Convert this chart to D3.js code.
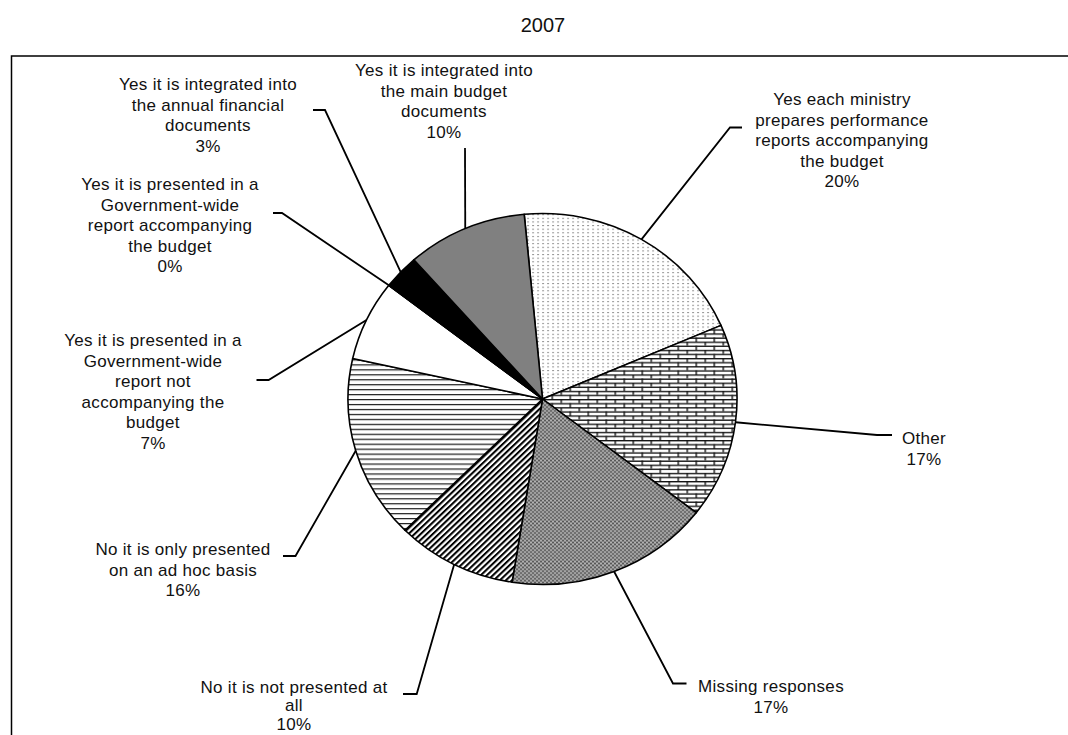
<!DOCTYPE html>
<html>
<head>
<meta charset="utf-8">
<script src="https://cdn.jsdelivr.net/npm/d3@7"></script>
<style>
  html, body { margin: 0; padding: 0; background: #fff; }
  svg { display: block; }
  text { font-family: "Liberation Sans", Arial, sans-serif; fill: #111; }
</style>
</head>
<body>
<svg id="chart" width="1068" height="735"></svg>
<script>
// ---- data ----
const title = "2007";
const categories = [
  "Yes each ministry prepares performance reports accompanying the budget",
  "Other",
  "Missing responses",
  "No it is not presented at all",
  "No it is only presented on an ad hoc basis",
  "Yes it is presented in a Government-wide report not accompanying the budget",
  "Yes it is presented in a Government-wide report accompanying the budget",
  "Yes it is integrated into the annual financial documents",
  "Yes it is integrated into the main budget documents"
];
const values = [20, 17, 17, 10, 16, 7, 0, 3, 10];
const labelLines = [
  ["Yes each ministry", "prepares performance", "reports accompanying", "the budget"],
  ["Other"],
  ["Missing responses"],
  ["No it is not presented at", "all"],
  ["No it is only presented", "on an ad hoc basis"],
  ["Yes it is presented in a", "Government-wide", "report not", "accompanying the", "budget"],
  ["Yes it is presented in a", "Government-wide", "report accompanying", "the budget"],
  ["Yes it is integrated into", "the annual financial", "documents"],
  ["Yes it is integrated into", "the main budget", "documents"]
];
const fills = ["url(#pDots)", "url(#pBrick)", "url(#pCheck)", "url(#pDiag)", "url(#pHoriz)", "#ffffff", "#ffffff", "#000000", "#808080"];

// ---- layout ----
const W = 1068, H = 735;
const cx = 542.5, cy = 399, rx = 194.5, ry = 185.5;
const startDeg = -5.4;
const lineH = 20.6;
const labelLayout = [
  {x: 842, y: 99,  elbow: [730, 127.5], end: [742, 127.5]},
  {x: 924, y: 438, elbow: [877, 435],   end: [892, 435]},
  {x: 771, y: 686, elbow: [673, 683.5], end: [686.5, 683.5]},
  {x: 294, y: 687, elbow: [416.7, 694], end: [403, 694], lh: 18.5},
  {x: 183, y: 549, elbow: [295.5, 556], end: [283, 556]},
  {x: 153, y: 340, elbow: [268.6, 380], end: [256.5, 380]},
  {x: 170, y: 184, elbow: [282, 213],   end: [273, 213]},
  {x: 208, y: 84,  elbow: [325, 110],   end: [313, 110]},
  {x: 444, y: 70,  elbow: [465, 148],   end: [465, 148]}
];

const svg = d3.select("#chart");
const defs = svg.append("defs");

// dotted pattern
const pd = defs.append("pattern").attr("id", "pDots").attr("patternUnits", "userSpaceOnUse")
  .attr("width", 5).attr("height", 3.8);
pd.append("rect").attr("width", 5).attr("height", 3.8).attr("fill", "#fff");
pd.append("rect").attr("x", 0).attr("y", 0).attr("width", 1.1).attr("height", 1.1).attr("fill", "#444");

// brick pattern
const pb = defs.append("pattern").attr("id", "pBrick").attr("patternUnits", "userSpaceOnUse")
  .attr("width", 18).attr("height", 8.6);
pb.append("rect").attr("width", 18).attr("height", 8.6).attr("fill", "#fff");
pb.append("rect").attr("x", 0).attr("y", 0).attr("width", 18).attr("height", 1.4).attr("fill", "#111");
pb.append("rect").attr("x", 0).attr("y", 4.3).attr("width", 18).attr("height", 1.4).attr("fill", "#111");
pb.append("rect").attr("x", 0).attr("y", 0).attr("width", 1.4).attr("height", 4.3).attr("fill", "#111");
pb.append("rect").attr("x", 9).attr("y", 4.3).attr("width", 1.4).attr("height", 4.3).attr("fill", "#111");

// checker pattern
const pc = defs.append("pattern").attr("id", "pCheck").attr("patternUnits", "userSpaceOnUse")
  .attr("width", 4).attr("height", 4);
pc.append("rect").attr("width", 4).attr("height", 4).attr("fill", "#8a8a8a");
pc.append("rect").attr("x", 0).attr("y", 0).attr("width", 1).attr("height", 1).attr("fill", "#222");
pc.append("rect").attr("x", 2).attr("y", 2).attr("width", 1).attr("height", 1).attr("fill", "#222");
pc.append("rect").attr("x", 2).attr("y", 0).attr("width", 1).attr("height", 1).attr("fill", "#ddd");
pc.append("rect").attr("x", 0).attr("y", 2).attr("width", 1).attr("height", 1).attr("fill", "#ddd");

// wide upward diagonal
const pg = defs.append("pattern").attr("id", "pDiag").attr("patternUnits", "userSpaceOnUse")
  .attr("width", 4.3).attr("height", 4.3).attr("patternTransform", "rotate(45)");
pg.append("rect").attr("width", 4.3).attr("height", 4.3).attr("fill", "#fff");
pg.append("rect").attr("width", 2.1).attr("height", 4.3).attr("fill", "#000");

// horizontal lines
const ph = defs.append("pattern").attr("id", "pHoriz").attr("patternUnits", "userSpaceOnUse")
  .attr("width", 10).attr("height", 5.2);
ph.append("rect").attr("width", 10).attr("height", 5.2).attr("fill", "#fff");
ph.append("rect").attr("y", 0).attr("width", 10).attr("height", 1.3).attr("fill", "#222");

// border
svg.append("rect").attr("x", 11.5).attr("y", 56).attr("width", 1100).attr("height", 720)
  .attr("fill", "none").attr("stroke", "#000").attr("stroke-width", 1.5);

// title
svg.append("text").attr("x", 543).attr("y", 25).attr("dy", "0.35em")
  .attr("text-anchor", "middle").style("font-size", "20px").text(title);

// pie
const data = categories.map((c, i) => ({category: c, value: values[i], idx: i}));
const start = startDeg * Math.PI / 180;
const pie = d3.pie().sort(null).value(d => d.value).startAngle(start).endAngle(start + 2 * Math.PI);
const arcs = pie(data);
const arc = d3.arc().innerRadius(0).outerRadius(rx);

const g = svg.append("g").attr("transform", `translate(${cx},${cy}) scale(1,${ry / rx})`);
g.selectAll("path.slice").data(arcs).join("path")
  .attr("class", "slice")
  .attr("d", arc)
  .attr("fill", d => fills[d.data.idx])
  .attr("stroke", "#000")
  .attr("stroke-width", 1.6)
  .attr("stroke-linejoin", "round");

// leader lines
const total = d3.sum(values);
const leaders = svg.append("g");
arcs.forEach(a => {
  const m = (a.startAngle + a.endAngle) / 2;
  const p0 = [cx + rx * Math.sin(m), cy - ry * Math.cos(m)];
  const L = labelLayout[a.data.idx];
  leaders.append("path")
    .attr("d", d3.line()([p0, L.elbow, L.end]))
    .attr("fill", "none").attr("stroke", "#000").attr("stroke-width", 1.8);
});

// labels
const labels = svg.append("g").style("font-size", "17px").style("letter-spacing", "0.3px");
data.forEach(d => {
  const L = labelLayout[d.idx];
  const lh = L.lh || lineH;
  const lines = labelLines[d.idx].concat([Math.round(d.value / total * 100) + "%"]);
  const t = labels.append("text").attr("text-anchor", "middle");
  lines.forEach((s, k) => {
    t.append("tspan").attr("x", L.x).attr("y", L.y + k * lh).attr("dy", "0.35em").text(s);
  });
});
</script>
</body>
</html>
